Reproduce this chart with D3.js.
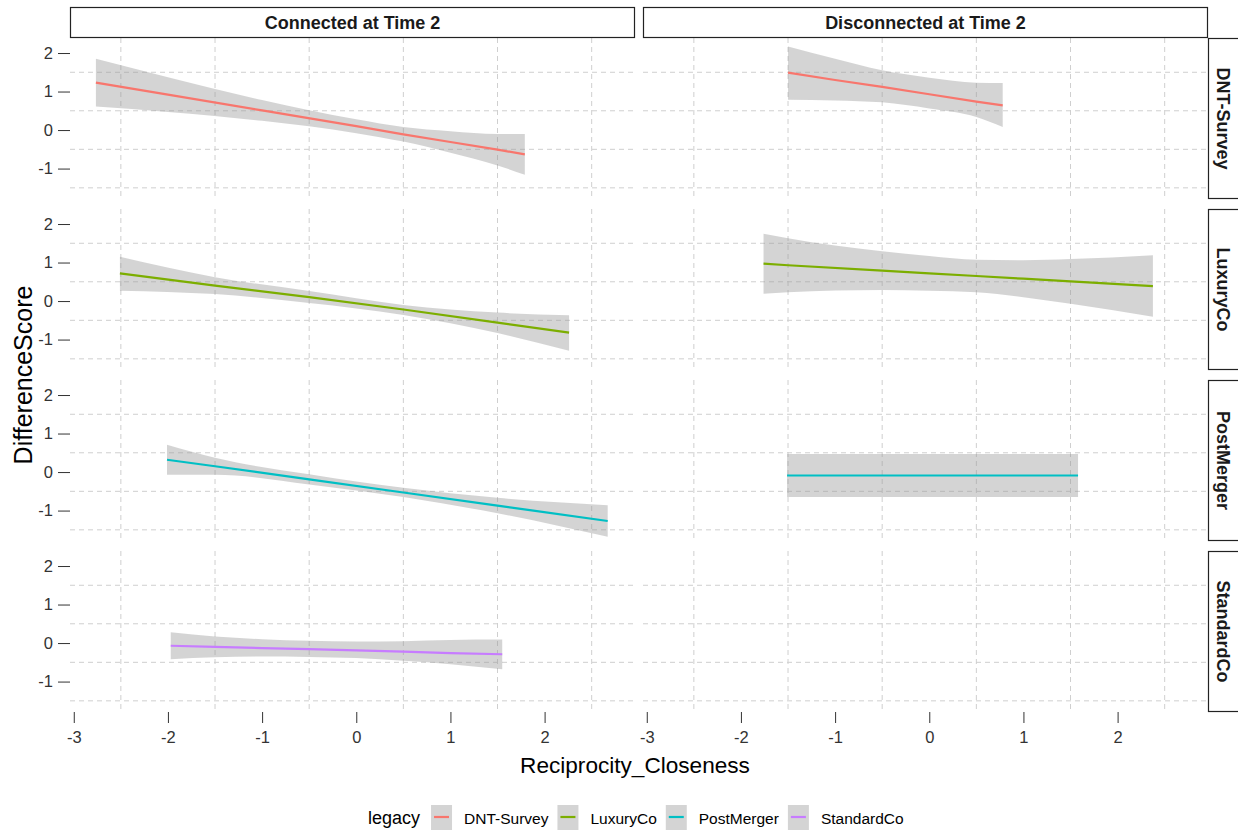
<!DOCTYPE html>
<html>
<head>
<meta charset="utf-8">
<script src="https://cdn.jsdelivr.net/npm/d3@7"></script>
<style>
  html, body { margin: 0; padding: 0; background: #ffffff; }
  svg { display: block; font-family: "Liberation Sans", Arial, sans-serif; }
</style>
</head>
<body>
<svg id="chart" width="1238" height="830"></svg>
<script>
// Facet levels
const colLevels = ["Connected at Time 2", "Disconnected at Time 2"];
const rowLevels = ["DNT-Survey", "LuxuryCo", "PostMerger", "StandardCo"];
const legacyColors = ["#F8766D", "#7CAE00", "#00BFC4", "#C77CFF"];

// Axis breaks
const xTicks = [-3, -2, -1, 0, 1, 2];
const yTicks = [-1, 0, 1, 2];
const xGrid = [-2.5, -1.5, -0.5, 0.5, 1.5, 2.5];
const yGrid = [-1.5, -0.5, 0.5, 1.5];

// Linear fits per facet: [Reciprocity_Closeness, fit, lower 95%, upper 95%]
const dntConnected = [
  [-2.765, 1.23, 0.61, 1.85],
  [-2.0, 0.92, 0.47, 1.37],
  [-1.0, 0.51, 0.24, 0.78],
  [0.0, 0.10, -0.08, 0.28],
  [0.5, -0.11, -0.30, 0.08],
  [1.0, -0.31, -0.59, -0.03],
  [1.5, -0.51, -0.92, -0.10],
  [1.79, -0.63, -1.16, -0.10]
];
const dntDisconnected = [
  [-1.5, 1.49, 0.79, 2.17],
  [-1.0, 1.30, 0.77, 1.85],
  [-0.5, 1.12, 0.72, 1.55],
  [0.0, 0.93, 0.56, 1.36],
  [0.5, 0.74, 0.34, 1.23],
  [0.78, 0.64, 0.08, 1.22]
];
const luxConnected = [
  [-2.51, 0.72, 0.27, 1.15],
  [-1.5, 0.40, 0.18, 0.62],
  [-0.5, 0.10, -0.05, 0.26],
  [0.5, -0.22, -0.36, -0.10],
  [1.5, -0.56, -0.83, -0.30],
  [2.26, -0.82, -1.29, -0.37]
];
const luxDisconnected = [
  [-1.76, 0.97, 0.19, 1.75],
  [-1.5, 0.93, 0.23, 1.63],
  [-0.5, 0.79, 0.29, 1.29],
  [0.0, 0.72, 0.27, 1.17],
  [0.5, 0.65, 0.23, 1.07],
  [1.0, 0.58, 0.10, 1.06],
  [1.5, 0.51, -0.07, 1.09],
  [2.375, 0.39, -0.41, 1.19]
];
const pmConnected = [
  [-2.01, 0.32, -0.07, 0.71],
  [-1.5, 0.15, -0.07, 0.37],
  [-0.5, -0.19, -0.32, -0.06],
  [0.5, -0.53, -0.65, -0.41],
  [1.5, -0.87, -1.07, -0.67],
  [2.67, -1.27, -1.68, -0.86]
];
const pmDisconnected = [
  [-1.51, -0.09, -0.65, 0.47],
  [1.58, -0.09, -0.65, 0.47]
];
const stdConnected = [
  [-1.97, -0.07, -0.42, 0.28],
  [-1.5, -0.10, -0.37, 0.17],
  [-1.0, -0.13, -0.35, 0.10],
  [-0.5, -0.16, -0.36, 0.06],
  [0.0, -0.19, -0.39, 0.04],
  [0.5, -0.22, -0.46, 0.05],
  [1.0, -0.26, -0.55, 0.08],
  [1.55, -0.29, -0.68, 0.09]
];

// Which fit goes in which facet cell (row = legacy, col = connection status)
const facets = [
  { row: 0, col: 0, fit: dntConnected },
  { row: 0, col: 1, fit: dntDisconnected },
  { row: 1, col: 0, fit: luxConnected },
  { row: 1, col: 1, fit: luxDisconnected },
  { row: 2, col: 0, fit: pmConnected },
  { row: 2, col: 1, fit: pmDisconnected },
  { row: 3, col: 0, fit: stdConnected }
];

// ---- layout ----
const svg = d3.select("#chart");
const plotLeft = 70, plotRight = 1208, plotTop = 38, plotBottom = 712;
const gapX = 8, gapY = 10;
const stripTop = 7;
const stripSide = 38;
const panelW = (plotRight - plotLeft - gapX) / 2;
const panelH = (plotBottom - plotTop - 3 * gapY) / 4;

const x = d3.scaleLinear().domain([-3.04, 2.96]).range([0, panelW]);
const y = d3.scaleLinear().domain([-1.79, 2.39]).range([panelH, 0]);

const panelLeft = c => plotLeft + c * (panelW + gapX);
const panelTopY = r => plotTop + r * (panelH + gapY);

const gridColor = "#cfcfcf";
const textDark = "#333333";
const tickFont = "16.5px";
const plainNumber = d => String(d);

// panels: background grid
for (let r = 0; r < rowLevels.length; r++) {
  for (let c = 0; c < colLevels.length; c++) {
    const g = svg.append("g")
      .attr("class", "panel")
      .attr("transform", `translate(${panelLeft(c)},${panelTopY(r)})`);

    g.selectAll("line.hgrid").data(yGrid).join("line")
      .attr("class", "hgrid")
      .attr("x1", 0).attr("x2", panelW)
      .attr("y1", d => y(d)).attr("y2", d => y(d))
      .attr("stroke", gridColor).attr("stroke-width", 1)
      .attr("stroke-dasharray", "5,4");

    g.selectAll("line.vgrid").data(xGrid).join("line")
      .attr("class", "vgrid")
      .attr("x1", d => x(d)).attr("x2", d => x(d))
      .attr("y1", 0).attr("y2", panelH)
      .attr("stroke", gridColor).attr("stroke-width", 1)
      .attr("stroke-dasharray", "5,4");
  }
}

// fitted lines with confidence ribbons
const ribbon = d3.area()
  .x(d => x(d[0]))
  .y0(d => y(d[2]))
  .y1(d => y(d[3]))
  .curve(d3.curveMonotoneX);
const fitLine = d3.line()
  .x(d => x(d[0]))
  .y(d => y(d[1]));

facets.forEach(f => {
  const g = svg.append("g")
    .attr("transform", `translate(${panelLeft(f.col)},${panelTopY(f.row)})`);
  g.append("path")
    .datum(f.fit)
    .attr("d", ribbon)
    .attr("fill", "#999999")
    .attr("fill-opacity", 0.42);
  g.append("path")
    .datum(f.fit)
    .attr("d", fitLine)
    .attr("fill", "none")
    .attr("stroke", legacyColors[f.row])
    .attr("stroke-width", 2.2);
});

// y axes (left column only)
for (let r = 0; r < rowLevels.length; r++) {
  const ax = svg.append("g")
    .attr("transform", `translate(${plotLeft},${panelTopY(r)})`)
    .call(d3.axisLeft(y).tickValues(yTicks).tickFormat(plainNumber).tickSize(12).tickPadding(5));
  ax.select(".domain").remove();
  ax.selectAll(".tick line").attr("stroke", textDark).attr("stroke-width", 1);
  ax.selectAll(".tick text")
    .attr("fill", textDark)
    .style("font-size", tickFont)
    .style("font-family", "'Liberation Sans', Arial, sans-serif");
}

// x axes (bottom row)
for (let c = 0; c < colLevels.length; c++) {
  const ax = svg.append("g")
    .attr("transform", `translate(${panelLeft(c)},${plotBottom})`)
    .call(d3.axisBottom(x).tickValues(xTicks).tickFormat(plainNumber).tickSize(11).tickPadding(8));
  ax.select(".domain").remove();
  ax.selectAll(".tick line").attr("stroke", textDark).attr("stroke-width", 1);
  ax.selectAll(".tick text")
    .attr("fill", textDark)
    .style("font-size", tickFont)
    .style("font-family", "'Liberation Sans', Arial, sans-serif");
}

// column strips
colLevels.forEach((lab, c) => {
  const g = svg.append("g").attr("transform", `translate(${panelLeft(c)},${stripTop})`);
  g.append("rect")
    .attr("x", 0.5).attr("y", 0.5)
    .attr("width", panelW - 1).attr("height", plotTop - stripTop - 1)
    .attr("fill", "#ffffff").attr("stroke", "#222222").attr("stroke-width", 1.2);
  g.append("text")
    .attr("x", panelW / 2).attr("y", (plotTop - stripTop) / 2)
    .attr("text-anchor", "middle").attr("dominant-baseline", "central")
    .attr("font-weight", "bold").attr("font-size", 18).attr("fill", "#1a1a1a")
    .text(lab);
});

// row strips
rowLevels.forEach((lab, r) => {
  const g = svg.append("g").attr("transform", `translate(${plotRight},${panelTopY(r)})`);
  g.append("rect")
    .attr("x", 0.5).attr("y", 0.5)
    .attr("width", stripSide).attr("height", panelH - 1)
    .attr("fill", "#ffffff").attr("stroke", "#222222").attr("stroke-width", 1.2);
  g.append("text")
    .attr("transform", `translate(${15},${panelH / 2}) rotate(90)`)
    .attr("text-anchor", "middle").attr("dominant-baseline", "central")
    .attr("font-weight", "bold").attr("font-size", 18).attr("fill", "#1a1a1a")
    .text(lab);
});

// axis titles
svg.append("text")
  .attr("x", (plotLeft + plotRight) / 2 - 4).attr("y", 765)
  .attr("text-anchor", "middle").attr("dominant-baseline", "central")
  .attr("font-size", 22.6).attr("fill", "#000")
  .text("Reciprocity_Closeness");

svg.append("text")
  .attr("transform", `translate(23,${(plotTop + plotBottom) / 2}) rotate(-90)`)
  .attr("text-anchor", "middle").attr("dominant-baseline", "central")
  .attr("font-size", 25).attr("fill", "#000")
  .text("DifferenceScore");

// legend
const legendY = 818;
const legend = svg.append("g");
const title = legend.append("text")
  .attr("x", 368).attr("y", legendY)
  .attr("dominant-baseline", "central")
  .attr("font-size", 18).attr("fill", "#000")
  .text("legacy");
let cursor = 368 + title.node().getComputedTextLength() + 11;
const keyW = 21, keyH = 26;
rowLevels.forEach((lab, i) => {
  legend.append("rect")
    .attr("x", cursor).attr("y", legendY - keyH / 2)
    .attr("width", keyW).attr("height", keyH)
    .attr("fill", "#999999").attr("fill-opacity", 0.42);
  legend.append("line")
    .attr("x1", cursor + 3).attr("x2", cursor + keyW - 3)
    .attr("y1", legendY - 1).attr("y2", legendY - 1)
    .attr("stroke", legacyColors[i]).attr("stroke-width", 2.2);
  const t = legend.append("text")
    .attr("x", cursor + keyW + 12).attr("y", legendY)
    .attr("dominant-baseline", "central")
    .attr("font-size", 15.5).attr("fill", "#000")
    .text(lab);
  cursor += keyW + 12 + t.node().getComputedTextLength() + 9;
});
</script>
</body>
</html>
